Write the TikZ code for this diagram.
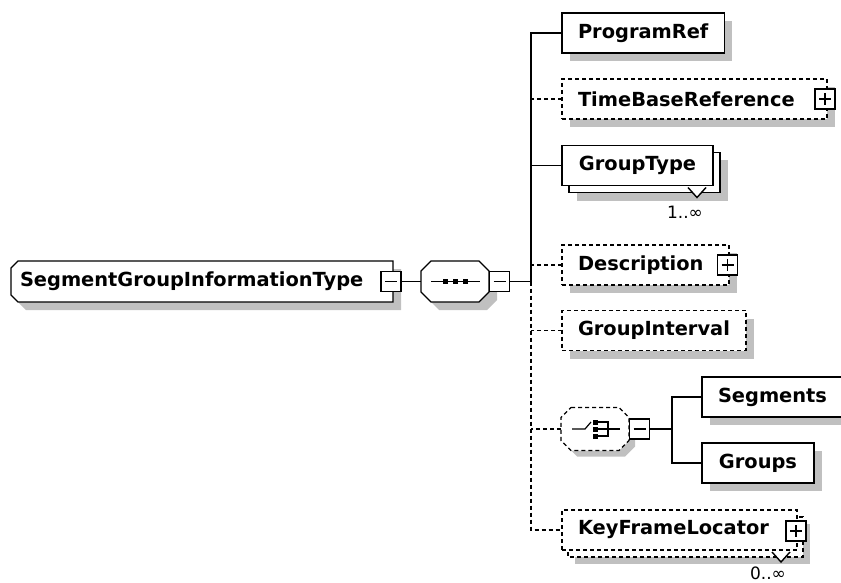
\documentclass[tikz,border=0pt]{standalone}
\usepackage{fontspec}
\setmainfont{DejaVu Sans}
\usetikzlibrary{shadows,calc}
\pgfdeclarelayer{background}
\pgfsetlayers{background,main}
\definecolor{shadowgray}{RGB}{192,192,192}
\newcommand\lblfont{\bfseries\fontsize{19.4}{23}\selectfont}
\newcommand\cardfont{\fontsize{17}{20}\selectfont}
\newcommand\octpath[4]{\path[#4]
 ($(#1.north west)+(#2+#3,#3)$) -- ($(#1.north east)+(-#2+#3,#3)$) --
 ($(#1.north east)+(#3,#2+#3)$) -- ($(#1.south east)+(#3,-#2+#3)$) --
 ($(#1.south east)+(-#2+#3,#3)$) -- ($(#1.south west)+(#2+#3,#3)$) --
 ($(#1.south west)+(#3,-#2+#3)$) -- ($(#1.north west)+(#3,#2+#3)$) -- cycle;}
\begin{document}
\begin{tikzpicture}[x=1pt,y=-1pt,line width=1.4pt,
  txt/.style={font=\lblfont, inner xsep=0pt, inner ysep=0pt, outer sep=0pt},
  box/.style={draw, fill=white, minimum height=40pt, inner xsep=16pt, inner ysep=0pt, outer sep=0pt, font=\lblfont, anchor=west},
  boxl/.style={box, align=left},
  opt/.style={dash pattern=on 4pt off 3pt},
  shad/.style={drop shadow={shadow xshift=8pt,shadow yshift=-8pt,fill=shadowgray,opacity=1}},
  pmbox/.style={draw, solid, fill=white, minimum size=20pt, inner sep=0pt, outer sep=0pt},
  minusbox/.style={pmbox, path picture={\draw[line width=1.2pt] ([xshift=4pt]path picture bounding box.west) -- ([xshift=-4pt]path picture bounding box.east);}},
  plusbox/.style={pmbox, path picture={\draw[line width=1.2pt] ([xshift=4pt]path picture bounding box.west) -- ([xshift=-4pt]path picture bounding box.east) ([yshift=-4pt]path picture bounding box.north) -- ([yshift=4pt]path picture bounding box.south);}},
  card/.style={font=\cardfont, inner sep=0pt},
  symb/.style={line width=1.2pt, solid},
]
\useasboundingbox (0,0) rectangle (841,583);

% root element and sequence
\node[txt, minimum width=382pt, minimum height=41pt, inner xsep=9pt, text width=364pt, align=left, anchor=west] (main) at (11,281.5) {SegmentGroupInformationType};
\node[minusbox] (mmain) at (391,281.5) {};
\node[txt, minimum width=68pt, minimum height=41pt] (seq) at (455,281.5) {};
\node[minusbox] (mseq) at (499.5,281.5) {};

% children
\node[box, shad, minimum width=162pt] (pr) at (562,33) {ProgramRef};
\node[boxl, opt, shad, minimum width=265pt, text width=233pt] (tbr) at (562,99) {TimeBaseReference};
\node[plusbox] (ptbr) at (825,99) {};
\node[box, minimum width=151pt] (gt) at (562,165.5) {GroupType};
\node[boxl, opt, shad, minimum width=167pt, text width=135pt] (desc) at (562,265) {Description};
\node[plusbox] (pdesc) at (727.5,265) {};
\node[box, opt, shad, minimum width=180pt] (gi) at (562,330.5) {GroupInterval};
\node[txt, minimum width=68pt, minimum height=43pt] (ch) at (595,429) {};
\node[minusbox] (mch) at (639.5,429) {};
\node[box, shad, minimum width=136pt] (seg) at (702,397) {Segments};
\node[box, shad, minimum width=112pt] (grp) at (702,463) {Groups};
\node[boxl, opt, minimum width=235pt, text width=203pt] (kfl) at (562,530) {KeyFrameLocator};
\node[plusbox] (pkfl) at (796,531) {};

% cardinalities
\draw[fill=white] ($(gt.south east)+(-25,2)$) -- ($(gt.south east)+(-16,12)$) -- ($(gt.south east)+(-7,2)$);
\node[card] (gtcard) at ($(gt.south east)+(-28,27)$) {1..∞};
\draw[fill=white] ($(kfl.south east)+(-25,2)$) -- ($(kfl.south east)+(-16,12)$) -- ($(kfl.south east)+(-7,2)$);
\node[card] (kflcard) at ($(kfl.south east)+(-29,23)$) {0..∞};

% sequence symbol
\draw[symb] ($(seq.center)+(-24,0)$) -- ($(seq.center)+(25,0)$);
\fill ($(seq.center)+(-12.5,-2.5)$) rectangle ++(5,5);
\fill ($(seq.center)+(-2.5,-2.5)$) rectangle ++(5,5);
\fill ($(seq.center)+(7.5,-2.5)$) rectangle ++(5,5);

% choice symbol
\draw[symb] ($(ch.center)+(-23,0)$) -- ($(ch.center)+(-10,0)$) -- ($(ch.center)+(-4,-7)$);
\fill ($(ch.center)+(-2.5,-9.5)$) rectangle ++(5,5);
\fill ($(ch.center)+(-2.5,-2.5)$) rectangle ++(5,5);
\fill ($(ch.center)+(-2.5,4.5)$) rectangle ++(5,5);
\draw[symb] ($(ch.center)+(2.5,-7)$) -- ($(ch.center)+(13,-7)$) -- ($(ch.center)+(13,7)$) -- ($(ch.center)+(2.5,7)$);
\draw[symb] ($(ch.center)+(2.5,0)$) -- ($(ch.center)+(25,0)$);

% connectors
\coordinate (tx) at (531,0);
\coordinate (st) at (672,0);
\draw (mmain.east) -- (seq.west);
\draw (mseq.east) -- (tx |- mseq.east);
\draw (pr.west) -| (tx |- mseq.east);
\draw[opt] (tx |- mseq.east) |- (kfl.west);
\draw[opt] (tbr.west) -- (tbr.west -| tx);
\draw (gt.west) -- (gt.west -| tx);
\draw[opt] (desc.west) -- (desc.west -| tx);
\draw[opt] (gi.west) -- (gi.west -| tx);
\draw[opt] (ch.west) -- (ch.west -| tx);
\draw (mch.east) -- (mch.east -| st);
\draw (seg.west) -| (st |- grp.west) -- (grp.west);

% background shapes
\begin{pgfonlayer}{background}
\begin{scope}[line width=1.4pt]
\fill[shadowgray] ($(main.north west)+(15,8)$) -- ($(main.north east)+(8,8)$) -- ($(main.south east)+(8,8)$) -- ($(main.south west)+(15,8)$) -- ($(main.south west)+(8,1)$) -- ($(main.north west)+(8,15)$) -- cycle;
\draw[line width=1.4pt, fill=white] ($(main.north west)+(7,0)$) -- (main.north east) -- (main.south east) -- ($(main.south west)+(7,0)$) -- ($(main.south west)+(0,-7)$) -- ($(main.north west)+(0,7)$) -- cycle;
\octpath{seq}{10}{8}{fill=shadowgray}
\octpath{seq}{10}{0}{draw,line width=1.4pt,fill=white}
\octpath{ch}{10}{6}{fill=shadowgray}
\octpath{ch}{10}{0}{draw,line width=1.4pt,fill=white,opt}
\fill[shadowgray] ($(gt.north west)+(15,15)$) rectangle ($(gt.south east)+(15,15)$);
\draw[line width=1.4pt, fill=white] ($(gt.north west)+(7,7)$) rectangle ($(gt.south east)+(7,7)$);
\fill[shadowgray] ($(kfl.north west)+(13,14)$) rectangle ($(kfl.south east)+(13,14)$);
\draw[line width=1.4pt, fill=white, opt] ($(kfl.north west)+(6,7)$) rectangle ($(kfl.south east)+(6,7)$);
\end{scope}
\end{pgfonlayer}
\end{tikzpicture}
\end{document}
